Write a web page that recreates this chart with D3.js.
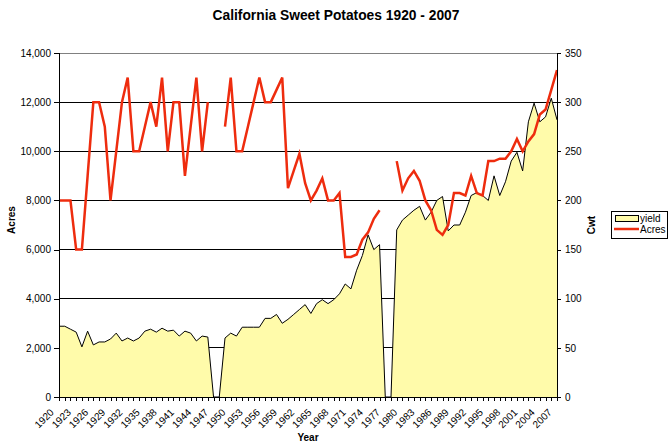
<!DOCTYPE html>
<html>
<head>
<meta charset="utf-8">
<script src="https://cdn.jsdelivr.net/npm/d3@7"></script>
<style>
  html, body { margin: 0; padding: 0; background: #fff; }
  svg { display: block; font-family: "Liberation Sans", Arial, sans-serif; }
</style>
</head>
<body>
<svg id="chart" width="668" height="445"></svg>
<script>
const years = d3.range(1920, 2008);
const acres = [
  8000, 8000, 8000, 6000, 6000, 9000, 12000, 12000, 11000, 8000,
  10000, 12000, 13000, 10000, 10000, 11000, 12000, 11000, 13000, 10000,
  12000, 12000, 9000, 11000, 13000, 10000, 12000, null, null, 11000,
  13000, 10000, 10000, 11000, 12000, 13000, 12000, 12000, 12500, 13000,
  8500, 9200, 9900, 8700, 8000, 8400, 8900, 8000, 8000, 8300,
  5700, 5700, 5800, 6400, 6700, 7250, 7600, null, null, 9600,
  8400, 8900, 9200, 8800, 8000, 7600, 6800, 6600, 7000, 8300,
  8300, 8200, 9000, 8300, 8200, 9600, 9600, 9700, 9700, 10000,
  10500, 10000, 10400, 10700, 11500, 11700, 12500, 13300
];
const yieldCwt = [
  72, 72, 69, 66, 51, 67, 53, 56, 56, 59,
  65, 57, 60, 57, 60, 67, 69, 66, 70, 67,
  68, 62, 67, 65, 57, 62, 61, null, null, 60,
  65, 62, 71, 71, 71, 71, 80, 80, 84, 75,
  79, 84, 89, 94, 85, 95, 99, 95, 99, 105,
  115, 110, 129, 144, 165, 150, 155, null, null, 170,
  180, 185, 190, 194, 180, 188, 200, 204, 169, 175,
  175, 188, 205, 208, 205, 200, 225, 205, 219, 240,
  249, 230, 280, 299, 280, 285, 304, 282
];
const leftTicks = [0, 2000, 4000, 6000, 8000, 10000, 12000, 14000];
const rightTicks = [0, 50, 100, 150, 200, 250, 300, 350];

const L = 59, R = 557, T = 53, B = 397;
const svg = d3.select("#chart");
const x = d3.scalePoint().domain(years).range([L, R]);
const yL = d3.scaleLinear().domain([0, 14000]).range([B, T]);
const yR = d3.scaleLinear().domain([0, 350]).range([B, T]);

// title
svg.append("text").attr("x", 336).attr("y", 20).attr("text-anchor", "middle")
  .attr("font-size", 13.8).attr("font-weight", "bold").text("California Sweet Potatoes 1920 - 2007");

// gridlines
svg.append("g").selectAll("line").data(leftTicks.filter(d => d > 0)).join("line")
  .attr("x1", L).attr("x2", R).attr("y1", d => yL(d)).attr("y2", d => yL(d))
  .attr("stroke", d => d === 14000 ? "#808080" : "#000").attr("stroke-width", 1)
  .attr("shape-rendering", "crispEdges");

// yield area
const pts = years.map((yr, i) => ({ yr, v: yieldCwt[i] == null ? 0 : yieldCwt[i] }));
svg.append("path").datum(pts)
  .attr("d", d3.area().x(d => x(d.yr)).y0(yR(0)).y1(d => yR(d.v)))
  .attr("fill", "#fffbaa").attr("stroke", "none");
svg.append("path").datum(pts)
  .attr("d", d3.line().x(d => x(d.yr)).y(d => yR(d.v)))
  .attr("fill", "none").attr("stroke", "#000").attr("stroke-width", 1);

// acres line
const apts = years.map((yr, i) => ({ yr, v: acres[i] }));
svg.append("path").datum(apts)
  .attr("d", d3.line().defined(d => d.v != null).x(d => x(d.yr)).y(d => yL(d.v)))
  .attr("fill", "none").attr("stroke", "#ee2c0e").attr("stroke-width", 2.5)
  .attr("stroke-linejoin", "miter");

// axes
const gl = svg.append("g").attr("transform", `translate(${L},0)`)
  .call(d3.axisLeft(yL).tickValues(leftTicks).tickFormat(d3.format(",")).tickSize(5).tickPadding(3));
const gr = svg.append("g").attr("transform", `translate(${R},0)`)
  .call(d3.axisRight(yR).tickValues(rightTicks).tickSize(4).tickPadding(4));
const gx = svg.append("g").attr("transform", `translate(0,${B})`)
  .call(d3.axisBottom(x).tickValues(years).tickSize(4)
    .tickFormat((d, i) => (d - 1920) % 3 === 0 ? d : ""));
[gl, gr, gx].forEach(g => {
  g.select(".domain").attr("stroke", "#000").attr("shape-rendering", "crispEdges");
  g.selectAll(".tick line").attr("stroke", "#000").attr("shape-rendering", "crispEdges");
  g.selectAll("text").attr("font-size", 10).attr("fill", "#000")
    .attr("font-family", "'Liberation Sans', Arial, sans-serif");
});
gl.select(".domain").attr("d", `M0,${T}V${B}`);
gr.select(".domain").attr("d", `M0,${T}V${B}`);
gx.select(".domain").attr("d", `M${L},0H${R}`);
gx.selectAll(".tick text")
  .attr("text-anchor", "end").attr("x", 0).attr("y", 0).attr("dy", 0)
  .attr("transform", "translate(-5,16) rotate(-45)");

// axis titles
svg.append("text").attr("x", 308).attr("y", 441).attr("text-anchor", "middle")
  .attr("font-size", 10).attr("font-weight", "bold").text("Year");
svg.append("text").attr("transform", "translate(15,220) rotate(-90)").attr("text-anchor", "middle")
  .attr("font-size", 10).attr("font-weight", "bold").text("Acres");
svg.append("text").attr("transform", "translate(595,225) rotate(-90)").attr("text-anchor", "middle")
  .attr("font-size", 10).attr("font-weight", "bold").text("Cwt");

// legend
const lg = svg.append("g");
lg.append("rect").attr("x", 611.5).attr("y", 211.5).attr("width", 56).attr("height", 27)
  .attr("fill", "#fff").attr("stroke", "#000");
lg.append("rect").attr("x", 615.5).attr("y", 215.5).attr("width", 23).attr("height", 6)
  .attr("fill", "#fffbaa").attr("stroke", "#000");
lg.append("line").attr("x1", 614).attr("x2", 639).attr("y1", 229).attr("y2", 229)
  .attr("stroke", "#ee2c0e").attr("stroke-width", 2.5);
lg.append("text").attr("x", 640).attr("y", 222).attr("font-size", 10).text("yield");
lg.append("text").attr("x", 640).attr("y", 232.5).attr("font-size", 10).text("Acres");
</script>
</body>
</html>
